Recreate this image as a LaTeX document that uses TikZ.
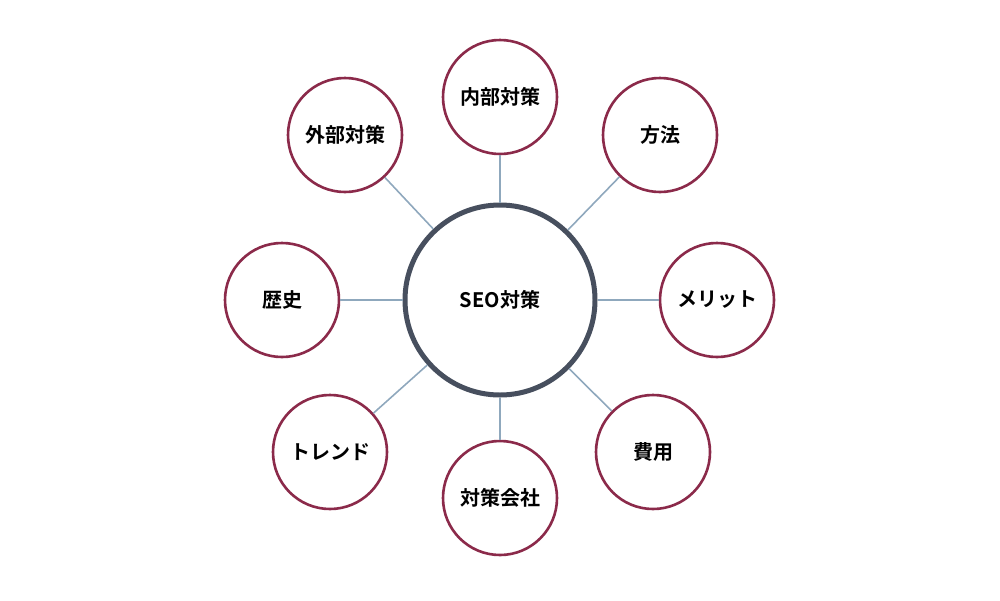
\documentclass[tikz,border=0pt]{standalone}
\usepackage{fontspec}
\setmainfont{Noto Sans CJK JP}[BoldFont={Noto Sans CJK JP Bold}]
\begin{document}
\begin{tikzpicture}[x=1pt,y=-1pt,
  hub/.style={circle,draw=hubc,line width=5pt,minimum size=190pt,inner sep=0pt,font=\bfseries\fontsize{20}{22}\selectfont},
  leaf/.style={circle,draw=leafc,line width=2.6pt,minimum size=114pt,inner sep=0pt,fill=white,font=\bfseries\fontsize{20}{22}\selectfont},
  link/.style={draw=linkc,line width=1.6pt}]
\definecolor{hubc}{HTML}{474F5E}
\definecolor{leafc}{HTML}{8B2A4A}
\definecolor{linkc}{HTML}{8FA8BD}
\useasboundingbox (0,0) rectangle (1000,600);
\node[hub] (c) at (500,300) {SEO対策};
\node[leaf] (a) at (500,97) {内部対策};
\node[leaf] (b) at (660,135) {方法};
\node[leaf] (d) at (717,300) {メリット};
\node[leaf] (e) at (653,452) {費用};
\node[leaf] (f) at (500,498) {対策会社};
\node[leaf] (g) at (330,452) {トレンド};
\node[leaf] (h) at (282,300) {歴史};
\node[leaf] (i) at (345,135) {外部対策};
\foreach \n in {a,b,d,e,f,g,h,i} \draw[link] (c) -- (\n);
\end{tikzpicture}
\end{document}
